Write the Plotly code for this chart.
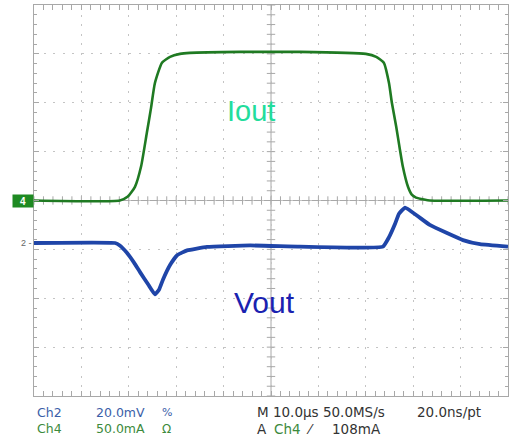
import numpy as np
import plotly.graph_objects as go

# ---- data (time in microseconds, 10 us/div) ----
iout_t = [0, 18.1, 19.8, 21.3, 22.6, 23.8, 24.7, 25.5, 27.0, 28.7, 30.8, 32.9, 43.5, 56.1,
          70.0, 72.2, 73.8, 74.9, 75.5, 76.4, 77.2, 77.8, 78.9, 79.7, 80.6, 82.3, 83.5, 100]
iout_ma = [0, 0, 4, 14, 35, 69, 95, 120, 141, 147, 150, 151, 152, 152,
           150, 147, 141, 120, 100, 76, 52, 35, 14, 6, 3, 1, 0, 0]

vout_t = [0, 17.1, 18.1, 19.6, 21.1, 22.4, 24.1, 25.5, 26.4, 27.2, 28.7, 30.2, 32.3, 36.5,
          45.6, 56.1, 73.6, 74.9, 76.2, 77.0, 78.3, 83.5, 90.5, 94.1, 100]
vout_mv = [0, 0, -1, -4, -8, -12, -17, -21, -19, -15, -9, -5, -3, -1.6,
           -1, -1.5, -1.5, 2.4, 8, 12, 14.5, 7.4, 1.2, -0.5, -1.5]

ch2_label = ["Ch2", "20.0mV", "%"]
ch4_label = ["Ch4", "50.0mA", "Ω"]
horiz_label = ["M 10.0µs 50.0MS/s", "20.0ns/pt"]
trig_label = ["A", "Ch4", "⁄", "108mA"]

GRID = "#c4c4c4"
FRAME = "#a8a8a8"
GREEN = "#1f7a22"
BLUE = "#1f45a8"
TXT_BLUE = "#3a5ea8"
TXT_GREEN = "#3c8a3c"
TXT_DARK = "#333333"

fig = go.Figure()

# centre crosshair tick marks (graticule decoration)
cx = np.arange(0, 100.01, 2)
cy = np.arange(-200, 200.01, 10)
fig.add_trace(go.Scatter(x=cx, y=np.zeros_like(cx), mode="markers", hoverinfo="skip",
                         marker=dict(symbol="line-ns", size=6, line=dict(width=1, color=FRAME)),
                         showlegend=False))
fig.add_trace(go.Scatter(x=np.full_like(cy, 50.0), y=cy, mode="markers", hoverinfo="skip",
                         marker=dict(symbol="line-ew", size=6, line=dict(width=1, color=FRAME)),
                         showlegend=False))

fig.add_trace(go.Scatter(x=iout_t, y=iout_ma, mode="lines",
                         line=dict(color=GREEN, width=2.6, shape="spline", smoothing=0.5),
                         showlegend=False, yaxis="y"))
fig.add_trace(go.Scatter(x=vout_t, y=vout_mv, mode="lines",
                         line=dict(color=BLUE, width=3.8, shape="spline", smoothing=0.35),
                         showlegend=False, yaxis="y2"))

fig.add_shape(type="line", xref="x", yref="paper", x0=50, x1=50, y0=0, y1=1,
              line=dict(color=FRAME, width=1), layer="below")
fig.add_shape(type="line", xref="paper", yref="y", x0=0, x1=1, y0=0, y1=0,
              line=dict(color=FRAME, width=1), layer="below")

axis_common = dict(showline=True, linecolor=FRAME, linewidth=1, mirror="allticks",
                   ticks="inside", ticklen=5, tickcolor=FRAME, showticklabels=False,
                   showgrid=True, gridcolor=GRID, griddash="2px,7.5px", zeroline=False)

fig.update_layout(
    width=512, height=441,
    margin=dict(l=34, r=4, t=5, b=45),
    paper_bgcolor="white", plot_bgcolor="white",
    xaxis=dict(range=[0, 100], dtick=10,
               minor=dict(dtick=2, ticks="inside", ticklen=3, tickcolor=FRAME, showgrid=False),
               **axis_common),
    yaxis=dict(range=[-200, 200], dtick=50,
               minor=dict(dtick=10, ticks="inside", ticklen=3, tickcolor=FRAME, showgrid=False),
               **axis_common),
    yaxis2=dict(range=[-62.6, 97.4], overlaying="y", visible=False),
    font=dict(family="Liberation Sans, Arial, sans-serif"),
)

# labels on the traces
fig.add_annotation(x=0.404, y=0.728, xref="paper", yref="paper", text="Iout", showarrow=False,
                   font=dict(size=29, color="#22dd9c"), xanchor="left", yanchor="middle")
fig.add_annotation(x=0.418, y=0.238, xref="paper", yref="paper", text="Vout", showarrow=False,
                   font=dict(size=30, color="#1a22b0"), xanchor="left", yanchor="middle")

# channel ground markers
fig.add_annotation(x=0, y=0, xref="paper", yref="y", text="<b>4</b>", showarrow=False, xanchor="right",
                   bgcolor="#1e8a22", font=dict(size=10, color="white"), width=20, height=12, borderpad=0)
fig.add_annotation(x=0, y=0, xref="paper", yref="y2", text="2 -", showarrow=False, xanchor="right",
                   font=dict(size=9, color="#666666"))

# readout text
row1, row2 = -0.041, -0.084
def txt(x, y, s, color, size=13.5):
    fig.add_annotation(x=x, y=y, xref="paper", yref="paper", text=s, showarrow=False,
                       xanchor="left", yanchor="middle",
                       font=dict(size=size, color=color, family="DejaVu Sans, sans-serif"))

txt(0.002, row1, ch2_label[0], TXT_BLUE, 12.5)
txt(0.127, row1, ch2_label[1], TXT_BLUE, 12.5)
txt(0.266, row1, ch2_label[2], TXT_BLUE, 11)
txt(0.002, row2, ch4_label[0], TXT_GREEN, 12.5)
txt(0.127, row2, ch4_label[1], TXT_GREEN, 12.5)
txt(0.266, row2, ch4_label[2], TXT_GREEN, 12)
txt(0.466, row1, horiz_label[0], TXT_DARK, 13.5)
txt(0.804, row1, horiz_label[1], TXT_DARK, 13.5)
txt(0.466, row2, trig_label[0], TXT_DARK, 13.5)
txt(0.503, row2, trig_label[1], TXT_GREEN, 13.5)
txt(0.570, row2, trig_label[2], TXT_DARK, 13.5)
txt(0.625, row2, trig_label[3], TXT_DARK, 13.5)

fig.write_html("out.html", config={"displayModeBar": False},
               post_script="document.body.style.margin='0';")
